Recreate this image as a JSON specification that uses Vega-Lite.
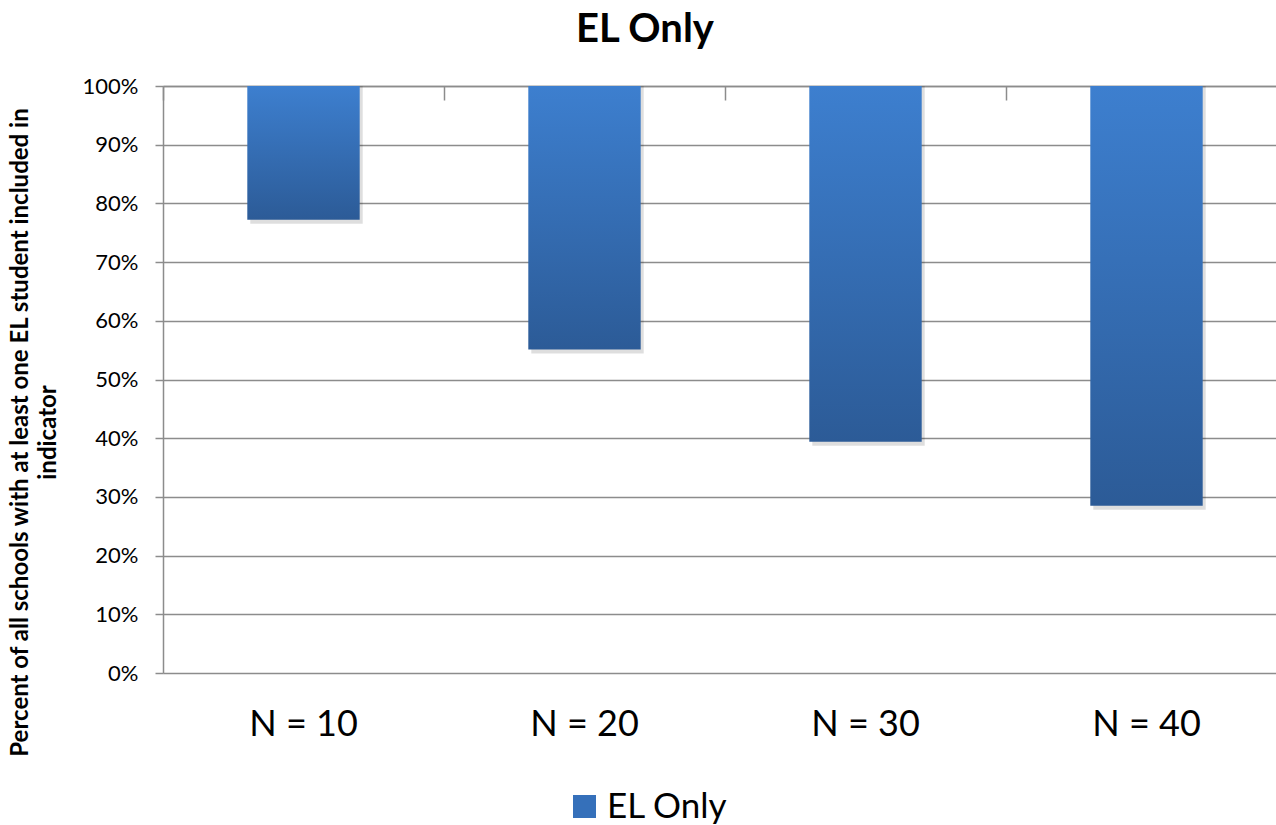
{
  "$schema": "https://vega.github.io/schema/vega-lite/v6.json",
  "autosize": "none",
  "padding": {"left": 163, "top": 86, "right": 0, "bottom": 152},
  "width": 1124,
  "height": 587,
  "background": "white",
  "title": {
    "text": "EL Only",
    "anchor": "middle",
    "dx": -80,
    "font": "Lato",
    "fontSize": 40,
    "fontWeight": "bold",
    "color": "black",
    "offset": 25
  },
  "data": {
    "values": [
      {"group": "N = 10", "share": 0.772, "series": "EL Only"},
      {"group": "N = 20", "share": 0.551, "series": "EL Only"},
      {"group": "N = 30", "share": 0.394, "series": "EL Only"},
      {"group": "N = 40", "share": 0.285, "series": "EL Only"}
    ]
  },
  "layer": [
    {
      "mark": {
        "type": "bar",
        "fill": "#000000",
        "opacity": 0.13,
        "xOffset": 3,
        "yOffset": 4,
        "width": {"band": 0.4}
      },
      "encoding": {
        "x": {
          "field": "group",
          "type": "nominal",
          "sort": null,
          "scale": {"paddingInner": 0, "paddingOuter": 0},
          "axis": {
            "orient": "bottom",
            "title": null,
            "domain": false,
            "ticks": false,
            "grid": false,
            "labelFont": "Lato",
            "labelFontSize": 36,
            "labelColor": "black",
            "labelPadding": 34,
            "labelAngle": 0
          }
        },
        "y": {
          "field": "share",
          "type": "quantitative",
          "scale": {"domain": [0, 1], "nice": false},
          "axis": {
            "values": [0, 0.1, 0.2, 0.3, 0.4, 0.5, 0.6, 0.7, 0.8, 0.9, 1],
            "format": ".0%",
            "labelFont": "Lato",
            "labelFontSize": 22,
            "labelColor": "black",
            "labelPadding": 17,
            "tickSize": 8,
            "tickColor": "#8c8c8c",
            "tickWidth": 1.5,
            "domainColor": "#8c8c8c",
            "domainWidth": 1.5,
            "grid": true,
            "gridColor": "#8c8c8c",
            "gridWidth": 1.5,
            "title": ["Percent of all schools with at least one EL student included in", "indicator"],
            "titleFont": "Lato",
            "titleFontSize": 24,
            "titleFontWeight": "bold",
            "titleColor": "black",
            "titleAngle": 270,
            "titleBaseline": "bottom",
            "titleLineHeight": 28,
            "titleX": -131,
            "titleY": 346
          }
        },
        "y2": {"datum": 1}
      }
    },
    {
      "mark": {
        "type": "bar",
        "width": {"band": 0.4},
        "fill": {
          "gradient": "linear",
          "x1": 0, "y1": 0, "x2": 0, "y2": 1,
          "stops": [
            {"offset": 0, "color": "#3D7FCF"},
            {"offset": 1, "color": "#2C5B97"}
          ]
        }
      },
      "encoding": {
        "x": {
          "field": "group",
          "type": "nominal",
          "sort": null,
          "scale": {"paddingInner": 0, "paddingOuter": 0},
          "axis": {
            "orient": "top",
            "title": null,
            "labels": false,
            "grid": false,
            "bandPosition": 0,
            "tickSize": -14,
            "tickColor": "#8c8c8c",
            "tickWidth": 1.5,
            "domainColor": "#8c8c8c",
            "domainWidth": 1.5
          }
        },
        "y": {"field": "share", "type": "quantitative"},
        "y2": {"datum": 1},
        "color": {
          "field": "series",
          "type": "nominal",
          "scale": {"domain": ["EL Only"], "range": ["#3570BA"]},
          "legend": {
            "title": null,
            "orient": "none",
            "legendX": 404,
            "legendY": 703,
            "symbolType": "square",
            "symbolSize": 529,
            "symbolStrokeWidth": 0,
            "labelFont": "Lato",
            "labelFontSize": 35,
            "labelColor": "black",
            "labelOffset": 5
          }
        }
      }
    }
  ],
  "resolve": {"axis": {"x": "independent"}},
  "config": {
    "view": {"stroke": null}
  }
}
